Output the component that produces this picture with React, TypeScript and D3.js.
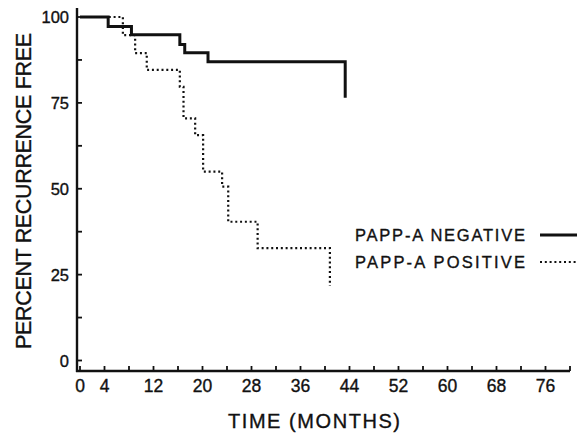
import React from "react";
import * as d3 from "d3";

const negTimes = [0, 4.6, 8.4, 16.3, 17.1, 20.9, 43.3];
const negValues = [100, 97.2, 94.8, 92.0, 89.6, 87.0, 76.5];
const posTimes = [0, 7.0, 9.0, 10.9, 16.3, 16.9, 18.8, 20.1, 23.2, 24.2, 29.0, 40.8];
const posValues = [100, 94.7, 89.5, 84.6, 79.7, 70.5, 65.6, 55.0, 50.6, 40.4, 32.7, 21.7];
const xTickLabels = [0, 4, 12, 20, 28, 36, 44, 52, 60, 68, 76];
const yTickLabels = [0, 25, 50, 75, 100];
const legendLabels = ["PAPP-A NEGATIVE", "PAPP-A POSITIVE"];

const W = 583;
const H = 433;
const FONT = "'Liberation Sans', Arial, Helvetica, sans-serif";

export default function App() {
  const x = d3.scaleLinear().domain([0, 80]).range([80, 570]);
  const y = d3.scaleLinear().domain([0, 100]).range([360.5, 17]);
  const axisY = 371;
  const axisX = 77;

  const line = d3
    .line<[number, number]>()
    .x((d) => x(d[0]))
    .y((d) => y(d[1]))
    .curve(d3.curveStepAfter);

  const negPts = negTimes.map((t, i) => [t, negValues[i]] as [number, number]);
  const posPts = posTimes.map((t, i) => [t, posValues[i]] as [number, number]);

  const xMinor = d3.range(0, 81, 4);
  const yMinor = d3.range(0, 100.1, 12.5);
  const txt = { fill: "#111", stroke: "#111", strokeWidth: 0.35 };

  return (
    <svg
      width={W}
      height={H}
      style={{ position: "absolute", left: 0, top: 0, background: "#fff" }}
      fontFamily={FONT}
    >
      <rect x={0} y={0} width={W} height={H} fill="#fff" />
      {/* axes */}
      <line x1={axisX} y1={8} x2={axisX} y2={axisY + 1} stroke="#111" strokeWidth={2.4} />
      <line x1={axisX - 1} y1={axisY} x2={x(80)} y2={axisY} stroke="#111" strokeWidth={2.4} />
      {xMinor.map((t) => (
        <line key={"xt" + t} x1={x(t)} x2={x(t)} y1={axisY} y2={axisY - 5} stroke="#111" strokeWidth={1.8} />
      ))}
      {yMinor.map((v) => (
        <line key={"yt" + v} x1={axisX} x2={axisX + 5} y1={y(v)} y2={y(v)} stroke="#111" strokeWidth={1.8} />
      ))}
      {xTickLabels.map((t) => (
        <text key={"xl" + t} x={x(t)} y={391.5} textAnchor="middle" fontSize={17.5} {...txt}>
          {t}
        </text>
      ))}
      {yTickLabels.map((v) => (
        <text key={"yl" + v} x={69} y={y(v) + 6} textAnchor="end" fontSize={16.5} {...txt}>
          {v}
        </text>
      ))}
      {/* axis titles */}
      <text
        x={314}
        y={428}
        textAnchor="middle"
        fontSize={20}
        {...txt}
        textLength={172}
        lengthAdjust="spacing"
      >
        TIME (MONTHS)
      </text>
      <text
        transform={`translate(31,${(32 + 350) / 2}) rotate(-90)`}
        textAnchor="middle"
        fontSize={21.5}
        {...txt}
        textLength={316}
        lengthAdjust="spacing"
      >
        PERCENT RECURRENCE FREE
      </text>
      {/* curves */}
      <path d={line(negPts) || ""} fill="none" stroke="#111" strokeWidth={3} />
      <path
        d={line(posPts) || ""}
        fill="none"
        stroke="#111"
        strokeWidth={2.2}
        strokeDasharray="2 2.8"
      />
      {/* legend */}
      <text x={355} y={241} fontSize={16.5} {...txt} textLength={170} lengthAdjust="spacing">
        {legendLabels[0]}
      </text>
      <line x1={540} x2={577} y1={235} y2={235} stroke="#111" strokeWidth={3} />
      <text x={355} y={268} fontSize={16.5} {...txt} textLength={170} lengthAdjust="spacing">
        {legendLabels[1]}
      </text>
      <line x1={540} x2={577} y1={262} y2={262} stroke="#111" strokeWidth={2.2} strokeDasharray="2 2.8" />
    </svg>
  );
}
